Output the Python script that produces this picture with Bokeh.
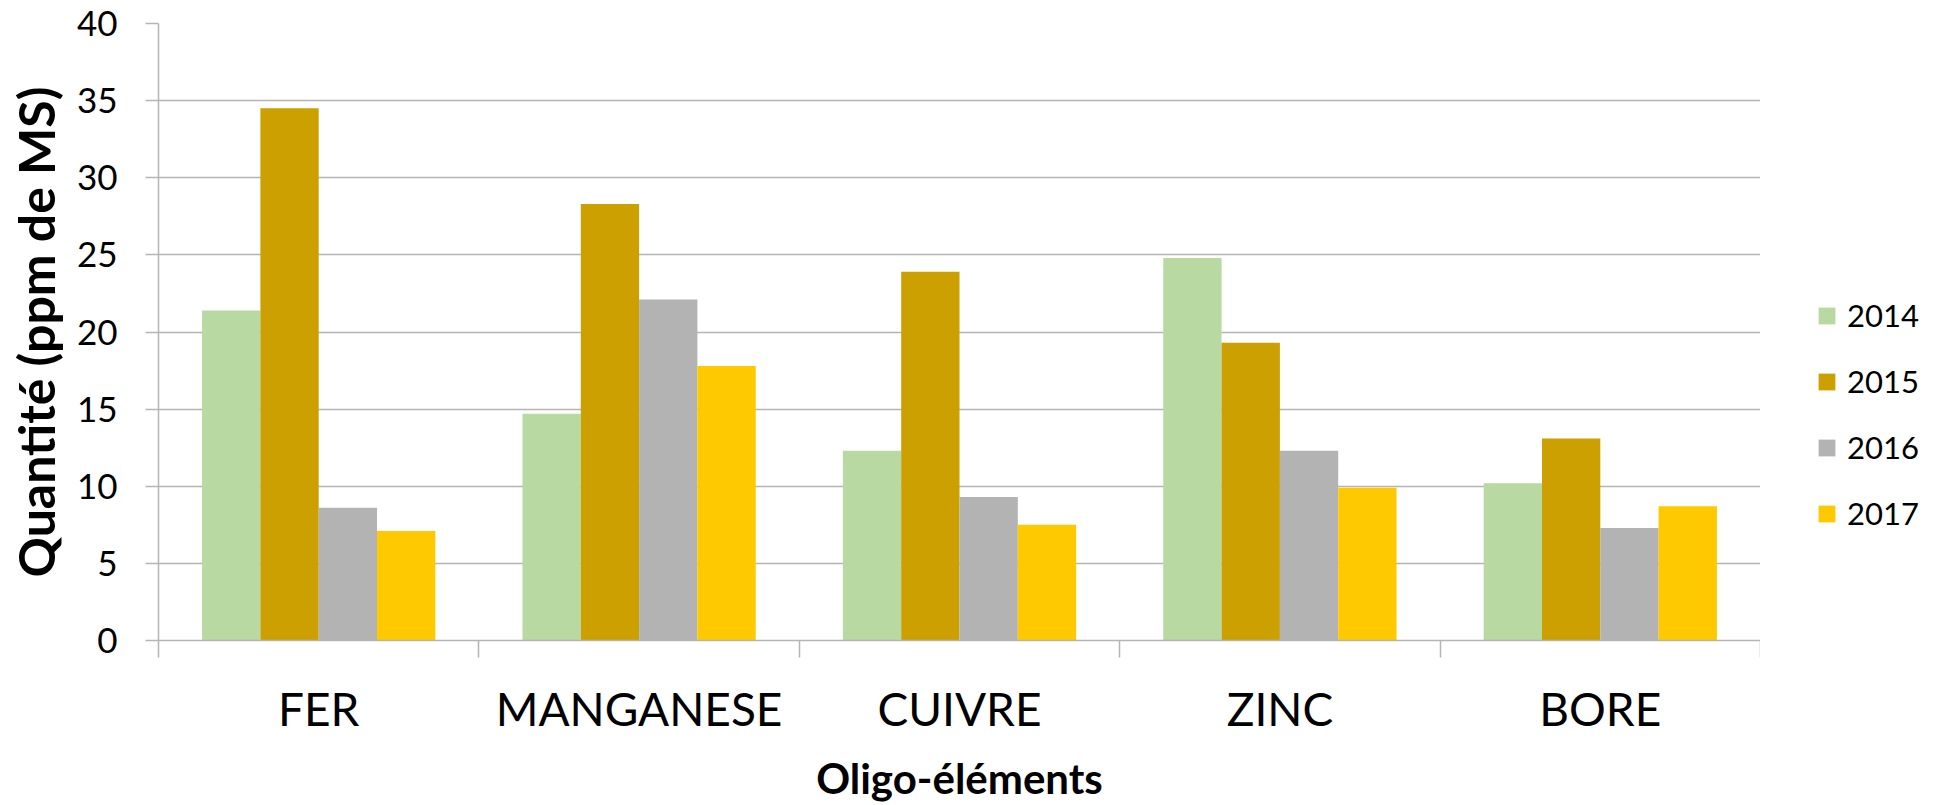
from bokeh.plotting import figure
from bokeh.layouts import row
from bokeh.models import ColumnDataSource, Range1d, FixedTicker, Legend, LegendItem
from bokeh.transform import dodge
from bokeh.embed import file_html
from bokeh.resources import INLINE

categories = ["FER", "MANGANESE", "CUIVRE", "ZINC", "BORE"]
years = ["2014", "2015", "2016", "2017"]
v2014 = [21.4, 14.7, 12.3, 24.8, 10.2]
v2015 = [34.5, 28.3, 23.9, 19.3, 13.1]
v2016 = [8.6, 22.1, 9.3, 12.3, 7.3]
v2017 = [7.1, 17.8, 7.5, 9.9, 8.7]
colors = ["#B8D9A1", "#CCA000", "#B3B3B3", "#FFC900"]
y_ticks = [0, 5, 10, 15, 20, 25, 30, 35, 40]
x_title = "Oligo-éléments"
y_title = "Quantité (ppm de MS)"

FONT = "Lato"
GRID = "#B5B5B5"

centers = [i + 0.5 for i in range(len(categories))]
bounds = list(range(len(categories) + 1))
data = {"x": centers}
for y, vals in zip(years, [v2014, v2015, v2016, v2017]):
    data[y] = vals
source = ColumnDataSource(data)

# ---- main chart ----
p = figure(width=1760, height=805, output_backend="svg", toolbar_location=None,
           x_range=Range1d(0, len(categories)), y_range=Range1d(0, 40),
           min_border_left=158, min_border_right=0, min_border_top=23,
           min_border_bottom=165)
p.outline_line_color = None
p.background_fill_color = "white"
p.border_fill_color = "white"

bw = 0.182
for k, (y, c) in enumerate(zip(years, colors)):
    p.vbar(x=dodge("x", (k - 1.5) * bw, range=p.x_range), top=y, width=bw,
           source=source, fill_color=c, line_color=None)

# y axis
p.yaxis.ticker = FixedTicker(ticks=y_ticks)
p.yaxis.axis_line_color = GRID
p.yaxis.axis_line_width = 1.5
p.yaxis.major_tick_line_color = GRID
p.yaxis.major_tick_line_width = 1.5
p.yaxis.major_tick_out = 13
p.yaxis.major_tick_in = 0
p.yaxis.minor_tick_line_color = None
p.yaxis.major_label_standoff = 28
p.yaxis.major_label_text_font = FONT
p.yaxis.major_label_text_font_size = "35px"
p.yaxis.major_label_text_color = "black"
p.yaxis.axis_label = y_title
p.yaxis.axis_label_text_font = FONT
p.yaxis.axis_label_text_font_style = "bold"
p.yaxis.axis_label_text_font_size = "50px"
p.yaxis.axis_label_text_color = "black"
p.yaxis.axis_label_standoff = 8

# x axis
p.xaxis.ticker = FixedTicker(ticks=centers, minor_ticks=bounds)
p.xaxis.major_label_overrides = {c: n for c, n in zip(centers, categories)}
p.xaxis.axis_line_color = GRID
p.xaxis.axis_line_width = 1.5
p.xaxis.major_tick_line_color = None
p.xaxis.major_tick_out = 0
p.xaxis.minor_tick_line_color = GRID
p.xaxis.minor_tick_line_width = 1.5
p.xaxis.minor_tick_out = 17
p.xaxis.minor_tick_in = 0
p.xaxis.major_label_standoff = 23
p.xaxis.major_label_text_font = FONT
p.xaxis.major_label_text_font_size = "46px"
p.xaxis.major_label_text_color = "black"
p.xaxis.axis_label = x_title
p.xaxis.axis_label_text_font = FONT
p.xaxis.axis_label_text_font_style = "bold"
p.xaxis.axis_label_text_font_size = "42px"
p.xaxis.axis_label_text_color = "black"
p.xaxis.axis_label_standoff = 14

p.xgrid.grid_line_color = None
p.ygrid.grid_line_color = GRID
p.ygrid.grid_line_width = 1.5

# ---- legend panel ----
q = figure(width=181, height=805, output_backend="svg", toolbar_location=None,
           x_axis_type=None, y_axis_type=None,
           min_border_left=0, min_border_right=0, min_border_top=23,
           min_border_bottom=165)
q.outline_line_color = None
q.xgrid.grid_line_color = None
q.ygrid.grid_line_color = None
q.background_fill_color = "white"
q.border_fill_color = "white"

items = []
for y, c in zip(years, colors):
    r = q.vbar(x="x", top=y, width=bw, source=source, fill_color=c,
               line_color=None, visible=False)
    items.append(LegendItem(label=y, renderers=[r]))

legend = Legend(items=items, location=(56, 108), orientation="vertical",
                glyph_width=21, glyph_height=21, label_height=21,
                label_text_font=FONT, label_text_font_size="31px",
                label_text_color="black",
                label_standoff=10, spacing=28, padding=0, margin=0,
                inactive_fill_alpha=0,
                border_line_color=None, background_fill_alpha=0)
q.add_layout(legend, "center")

layout = row(p, q, spacing=0)
open("out.html", "w").write(file_html(layout, INLINE))
